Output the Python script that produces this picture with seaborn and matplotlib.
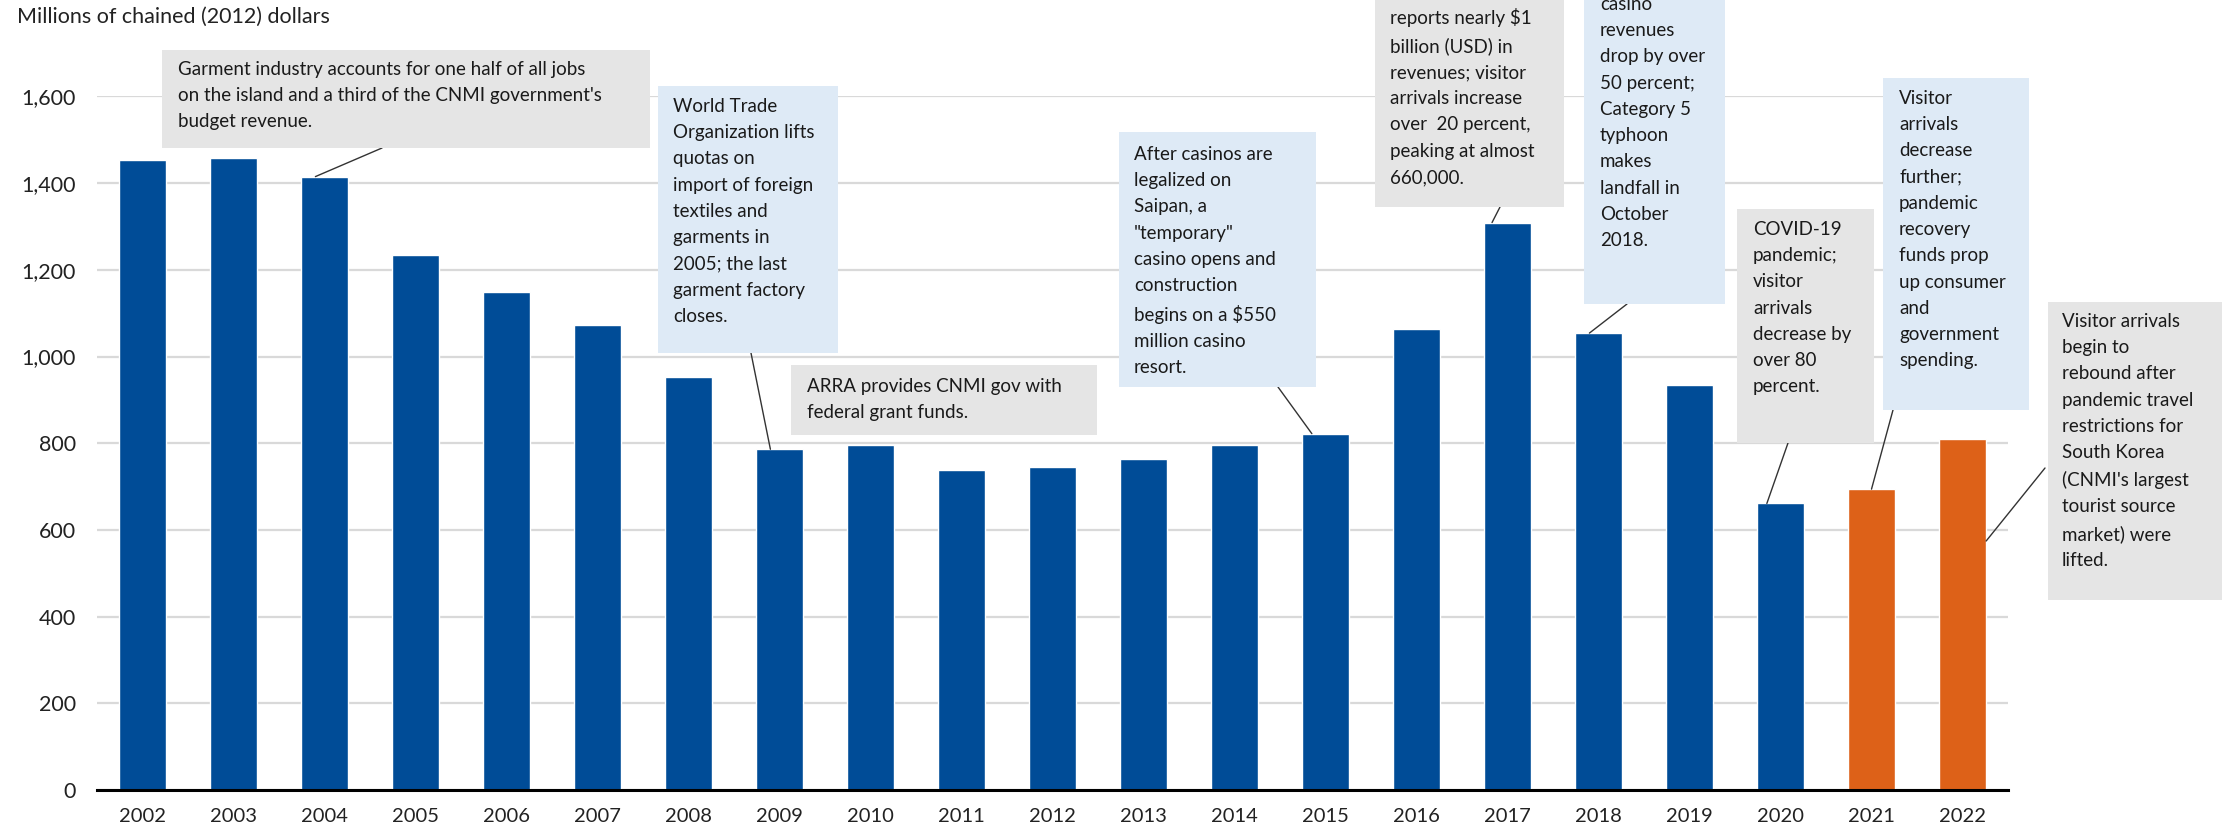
import matplotlib
matplotlib.use("Agg")
import matplotlib.pyplot as plt
from matplotlib.patches import Rectangle
import pandas as pd
import seaborn as sns

# data
years = [str(y) for y in range(2002, 2023)]
gdp = [1453, 1459, 1415, 1235, 1149, 1072, 953, 786, 797, 738, 746,
       764, 796, 822, 1064, 1309, 1054, 935, 661, 694, 809]
series = ["Actual"] * 19 + ["Recent"] * 2
y_ticks = [0, 200, 400, 600, 800, 1000, 1200, 1400, 1600]
y_label = "Millions of chained (2012) dollars"

notes = [
    "Garment industry accounts for one half of all jobs\non the island and a third of the CNMI government's\nbudget revenue.",
    "World Trade\nOrganization lifts\nquotas on\nimport of foreign\ntextiles and\ngarments in\n2005; the last\ngarment factory\ncloses.",
    "ARRA provides CNMI gov with\nfederal grant funds.",
    "After casinos are\nlegalized on\nSaipan, a\n\"temporary\"\ncasino opens and\nconstruction\nbegins on a $550\nmillion casino\nresort.",
    "reports nearly $1\nbillion (USD) in\nrevenues; visitor\narrivals increase\nover  20 percent,\npeaking at almost\n660,000.",
    "casino\nrevenues\ndrop by over\n50 percent;\nCategory 5\ntyphoon\nmakes\nlandfall in\nOctober\n2018.",
    "COVID-19\npandemic;\nvisitor\narrivals\ndecrease by\nover 80\npercent.",
    "Visitor\narrivals\ndecrease\nfurther;\npandemic\nrecovery\nfunds prop\nup consumer\nand\ngovernment\nspending.",
    "Visitor arrivals\nbegin to\nrebound after\npandemic travel\nrestrictions for\nSouth Korea\n(CNMI's largest\ntourist source\nmarket) were\nlifted.",
]
note_years = ["2004", "2009", None, "2015", "2017", "2018", "2020", "2021", "2022"]

# layout (pixels from top-left of the 2234x832 canvas)
W, H = 2234, 832
GRAY, BLUE_BOX = "#e5e5e5", "#deeaf6"
boxes = [  # x0, y0, x1, y1, text_left, text_top, colour
    (162, 50, 650, 148, 178, 61, GRAY),
    (658, 86, 838, 353, 673, 98, BLUE_BOX),
    (791, 365, 1097, 435, 807, 378, GRAY),
    (1119, 132, 1316, 387, 1134, 146, BLUE_BOX),
    (1375, -40, 1564, 207, 1390, 8, GRAY),
    (1584, -40, 1725, 304, 1600, -4, BLUE_BOX),
    (1737, 209, 1874, 443, 1753, 221, GRAY),
    (1883, 78, 2029, 410, 1899, 90, BLUE_BOX),
    (2048, 302, 2222, 600, 2062, 313, GRAY),
]
leader_start = [(382, 148), (751, 353), None, (1278, 387), (1500, 207),
                (1627, 304), (1788, 443), (1893, 410), (2045, 468)]
leader_dx = [-0.1, -0.1, 0, -0.15, -0.17, -0.1, -0.15, 0.0, 0.26]
leader_frac = [1, 1, 1, 1, 1, 1, 1, 1, 0.71]

df = pd.DataFrame({"Year": years, "Value": gdp, "Series": series})

sns.set_theme(style="white")
plt.rcParams["font.family"] = ["Lato", "DejaVu Sans"]

fig = plt.figure(figsize=(W / 100, H / 100), dpi=100)
ax = fig.add_axes([97 / W, 1 - 790 / H, (2008 - 97) / W, (790 - 96.4) / H])

sns.barplot(data=df, x="Year", y="Value", hue="Series",
            palette={"Actual": "#004c97", "Recent": "#dd6118"},
            saturation=1, dodge=False, width=0.51, legend=False, ax=ax, zorder=3)

ax.set_ylim(0, 1600)
ax.set_xlim(-0.5, len(years) - 0.5)
ax.set_yticks(y_ticks)
ax.set_yticklabels([f"{v:,}" for v in y_ticks])
ax.yaxis.grid(True, color="#d9d9d9", linewidth=1.6, zorder=0)
ax.set_axisbelow(True)
ax.set_xlabel("")
ax.set_ylabel("")
for s in ["top", "right", "left"]:
    ax.spines[s].set_visible(False)
ax.spines["bottom"].set_color("black")
ax.spines["bottom"].set_linewidth(2.2)
ax.spines["bottom"].set_zorder(5)
ax.tick_params(axis="y", length=0, pad=15, labelsize=15.5, labelcolor="#222222")
ax.tick_params(axis="x", length=0, pad=13, labelsize=14.5, labelcolor="#222222")

fig.text(17 / W, 1 - 17 / H, y_label, ha="left", va="center",
         fontsize=15.5, color="#222222")

for note, yr, box, start, dx, frac in zip(notes, note_years, boxes,
                                          leader_start, leader_dx, leader_frac):
    x0, y0, x1, y1, tx, ty, col = box
    fig.patches.append(Rectangle((x0 / W, 1 - y1 / H), (x1 - x0) / W, (y1 - y0) / H,
                                 transform=fig.transFigure, facecolor=col,
                                 edgecolor="none", zorder=1))
    fig.text(tx / W, 1 - ty / H, note, ha="left", va="top", fontsize=13.5,
             linespacing=1.66, color="#1a1a1a", zorder=2)
    if yr is not None:
        i = years.index(yr)
        ax.annotate("", xy=(i + dx, gdp[i] * frac), xycoords="data",
                    xytext=(start[0] / W, 1 - start[1] / H),
                    textcoords="figure fraction", annotation_clip=False,
                    arrowprops=dict(arrowstyle="-", color="#333333", lw=1.0,
                                    shrinkA=0, shrinkB=0))

fig.savefig("out.png", dpi=100)
